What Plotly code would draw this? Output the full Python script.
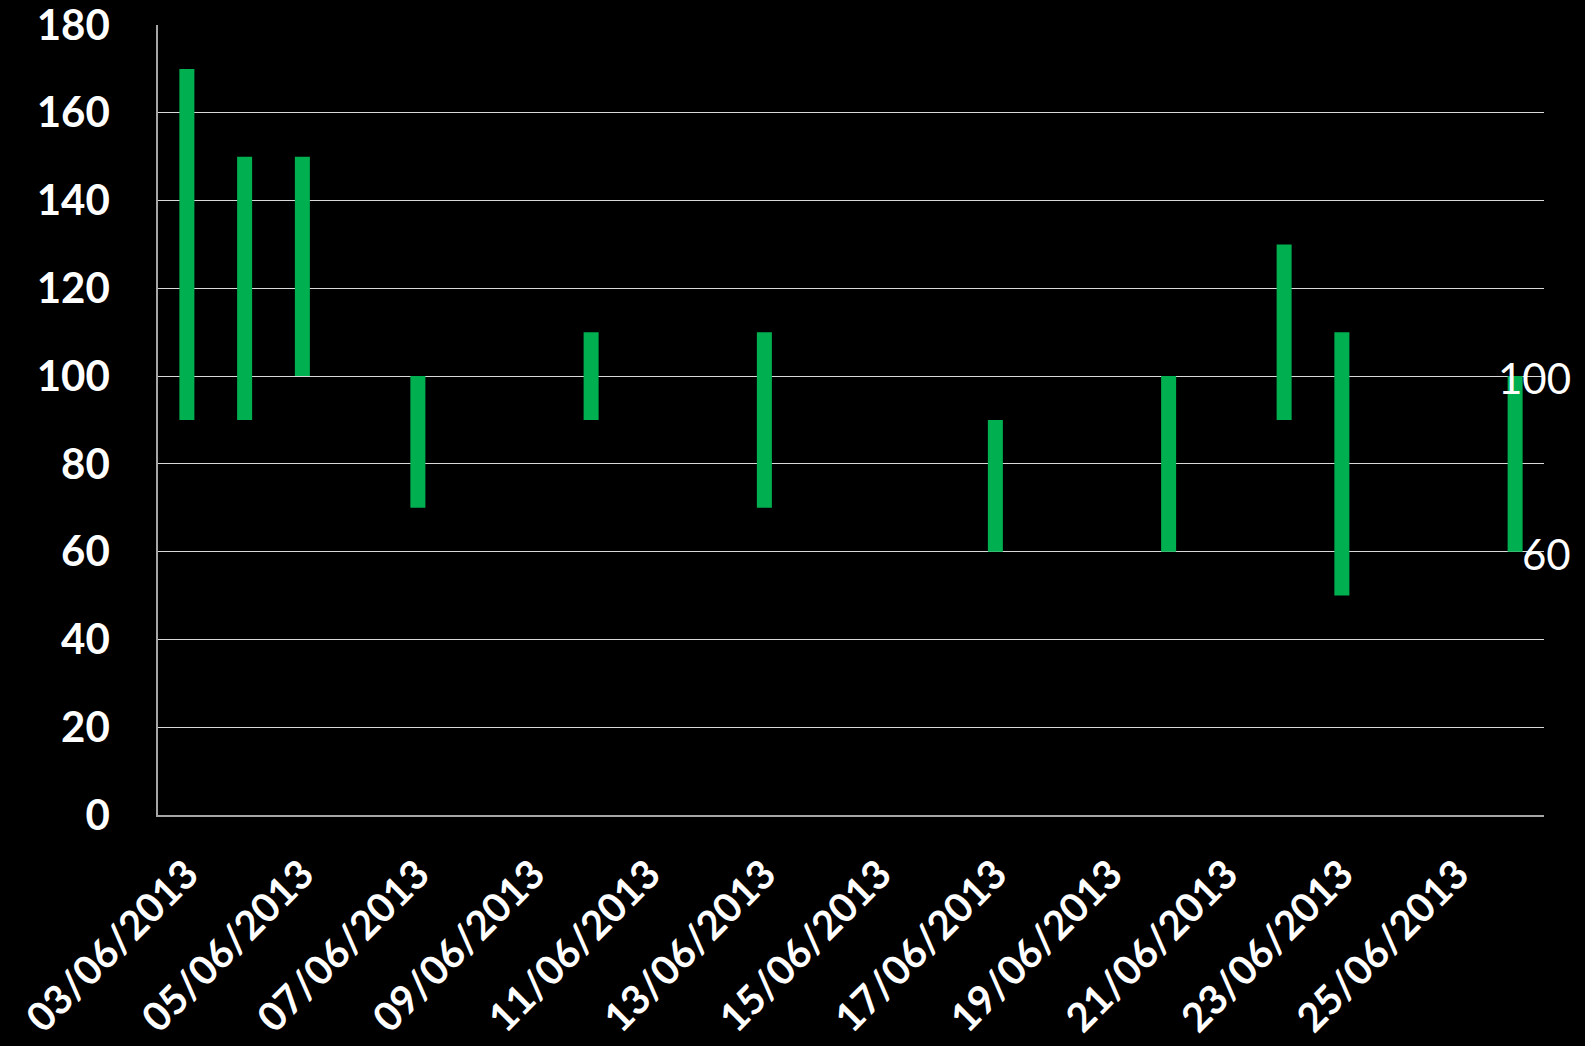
import plotly.graph_objects as go

# daily high / low ranges
dates = ["2013-06-03", "2013-06-04", "2013-06-05", "2013-06-07", "2013-06-10", "2013-06-13",
         "2013-06-17", "2013-06-20", "2013-06-22", "2013-06-23", "2013-06-26"]
lows  = [90, 90, 100, 70, 90, 70, 60, 60, 90, 50, 60]
highs = [170, 150, 150, 100, 110, 110, 90, 100, 130, 110, 100]

y_ticks    = [0, 20, 40, 60, 80, 100, 120, 140, 160, 180]
grid_ticks = [20, 40, 60, 80, 100, 120, 140, 160]

DAY_MS = 86400000
GREEN  = "#00B050"

fig = go.Figure()
fig.add_trace(go.Bar(
    x=dates,
    y=[h - l for h, l in zip(highs, lows)],
    base=lows,
    width=0.26 * DAY_MS,
    marker=dict(color=GREEN, line=dict(width=0)),
    hoverinfo="skip",
))
# empty carrier so the grid-only overlay axis gets drawn (no grid line at 180)
fig.add_trace(go.Scatter(x=dates, y=highs, mode="none", hoverinfo="skip", yaxis="y2"))

# labels on the last bar (high / low)
for val in [highs[-1], lows[-1]]:
    fig.add_annotation(x=dates[-1], y=val, text=str(val), showarrow=False,
                       xanchor="right", yanchor="middle", xshift=58, yshift=-2,
                       font=dict(family="Lato", size=42, color="white"))

fig.update_layout(
    width=1585, height=1046,
    paper_bgcolor="black", plot_bgcolor="black",
    showlegend=False,
    margin=dict(l=158, r=41, t=25, b=231, autoexpand=False),
    font=dict(family="Lato", color="white"),
    xaxis=dict(
        type="date",
        range=["2013-06-02 12:00", "2013-06-26 12:00"],
        tick0="2013-06-03", dtick=2 * DAY_MS,
        tickformat="%d/%m/%Y", tickangle=-45,
        tickfont=dict(family="Lato", size=40, color="white", weight="bold"),
        showgrid=False, zeroline=False, automargin=False,
        showline=True, linecolor="#A6A6A6", linewidth=1.5,
        ticks="", ticklabelstandoff=18, ticklabeloverflow="allow",
    ),
    yaxis=dict(
        range=[0, 180], tickvals=y_ticks, ticktext=[str(v) for v in y_ticks],
        tickfont=dict(family="Lato", size=42, color="white", weight="bold"),
        showgrid=False, zeroline=False, automargin=False,
        showline=True, linecolor="#A6A6A6", linewidth=1.5,
        ticks="", ticklabelstandoff=38, ticklabeloverflow="allow",
    ),
    yaxis2=dict(
        overlaying="y", range=[0, 180], tickvals=grid_ticks,
        showticklabels=False, showgrid=True, gridcolor="#D9D9D9", gridwidth=1.2,
        zeroline=False, showline=False, ticks="", automargin=False,
    ),
)

fig.write_html("out.html", config={"displayModeBar": False}, post_script=(
    "document.body.style.margin='0';"
    "document.body.style.background='black';"
    "document.body.style.overflow='hidden';"
))
